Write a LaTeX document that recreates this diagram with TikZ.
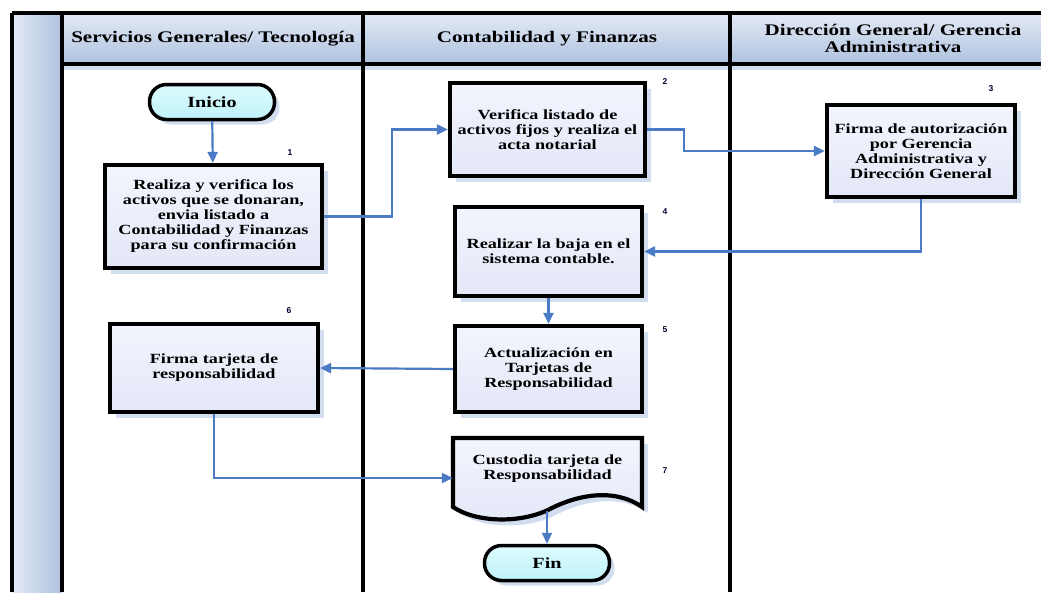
\documentclass[tikz,border=0pt]{standalone}
\usepackage{fontspec}
\setmainfont{Liberation Serif}[FakeStretch=1.3]
\newfontfamily\numfont{Liberation Sans}
\usetikzlibrary{arrows.meta,shapes,shadows,calc}
\definecolor{flecha}{HTML}{4A7BC4}
\definecolor{caja}{HTML}{F3F5FD}
\definecolor{cajab}{HTML}{E3E7F7}
\definecolor{cian}{HTML}{DDFBFE}
\definecolor{cianb}{HTML}{BFF3F9}
\definecolor{carril}{HTML}{AFC2DF}
\definecolor{carrilc}{HTML}{E3EAF5}
\definecolor{sombra}{HTML}{D3DDF0}

\begin{document}
\begin{tikzpicture}[x=1pt,y=-1pt,
  paso/.style={rectangle,draw=black,line width=4.2pt,top color=caja,bottom color=cajab,
    drop shadow={shadow xshift=6pt,shadow yshift=-6pt,fill=sombra,opacity=1},
    align=center,font=\bfseries\fontsize{14}{15}\selectfont,inner sep=2pt},
  term/.style={rectangle,rounded corners=17pt,draw=black,line width=3.5pt,top color=cian,bottom color=cianb,
    drop shadow={shadow xshift=5pt,shadow yshift=-5pt,fill=sombra,opacity=1},
    font=\bfseries\fontsize{15.5}{16}\selectfont,minimum width=125pt,minimum height=35pt},
  titulo/.style={align=center,font=\bfseries\fontsize{16.2}{17}\selectfont},
  num/.style={font=\numfont\bfseries\fontsize{8.5}{9}\selectfont,text=black!80!blue},
  flecha/.style={draw=flecha,line width=2.2pt,-{Triangle[length=11pt,width=10pt]}}]
\useasboundingbox (0,0) rectangle (1041,592);

% carriles
\shade[left color=carrilc,right color=carril] (12,13) rectangle (62,592);
\shade[top color=carrilc,bottom color=carril] (62,13) rectangle (1041,64);
\fill[sombra] (62,66) rectangle (1041,70);
\draw[line width=4pt] (12,13) -- (1041,13);
\draw[line width=4pt] (62,64) -- (1041,64);
\draw[line width=4pt] (12,13) -- (12,592);
\draw[line width=4pt] (62,13) -- (62,592);
\draw[line width=4pt] (363,13) -- (363,592);
\draw[line width=4pt] (730,13) -- (730,592);

\node[titulo] (t1) at (213,39) {Servicios Generales/ Tecnología};
\node[titulo] (t2) at (547,39) {Contabilidad y Finanzas};
\node[titulo] (t3) at (893,38) {Dirección General/ Gerencia\\Administrativa};

% pasos
\node[term] (ini) at (212,102) {Inicio};
\node[paso,minimum width=217pt,minimum height=103pt] (p1) at (213.5,216.5)
  {Realiza y verifica los\\activos que se donaran,\\envia listado a\\Contabilidad y Finanzas\\para su confirmación};
\node[paso,minimum width=195pt,minimum height=93pt] (p2) at (547.5,129.5)
  {Verifica listado de\\activos fijos y realiza el\\acta notarial};
\node[paso,minimum width=188pt,minimum height=92pt] (p3) at (921,151)
  {Firma de autorización\\por Gerencia\\Administrativa y\\Dirección General};
\node[paso,minimum width=187pt,minimum height=89pt] (p4) at (548.5,251.5)
  {Realizar la baja en el\\sistema contable.};
\node[paso,minimum width=187pt,minimum height=86pt] (p5) at (548.5,369)
  {Actualización en\\Tarjetas de\\Responsabilidad};
\node[paso,minimum width=208pt,minimum height=88pt] (p6) at (214,368)
  {Firma tarjeta de\\responsabilidad};

% documento
\filldraw[draw=black,line width=4.2pt,top color=caja,bottom color=cajab,
    drop shadow={shadow xshift=6pt,shadow yshift=-6pt,fill=sombra,opacity=1}]
  (453,438) -- (642,438) -- (642,507)
  .. controls (615,488) and (578,494) .. (548,510)
  .. controls (518,524) and (475,522) .. (453,507) -- cycle;
\node[align=center,font=\bfseries\fontsize{14}{15}\selectfont,minimum width=189pt] (p7) at (547.5,469)
  {Custodia tarjeta de\\Responsabilidad};
\coordinate (ola) at (547,511);
\node[term] (fin) at (547,563) {Fin};

% numeros
\node[num] at (290,153) {1};
\node[num] at (665,82) {2};
\node[num] at (991,89) {3};
\node[num] at (665,212) {4};
\node[num] at (665,330) {5};
\node[num] at (289,311) {6};
\node[num] at (665,471) {7};

% flechas
\draw[flecha] (ini) -- (p1);
\draw[flecha] (p1.east) -- ++(68,0) |- (p2.west);
\draw[flecha] (p2.east) -- ++(37,0) |- (p3.west);
\draw[flecha] (p3.south) |- (p4.east);
\draw[flecha] (p4) -- (p5);
\draw[flecha] (p5.west) -- (p6.east);
\draw[flecha] (p6.south) |- ($(p7.west)+(0,9)$);
\draw[flecha] (ola) -- (fin);
\end{tikzpicture}
\end{document}
